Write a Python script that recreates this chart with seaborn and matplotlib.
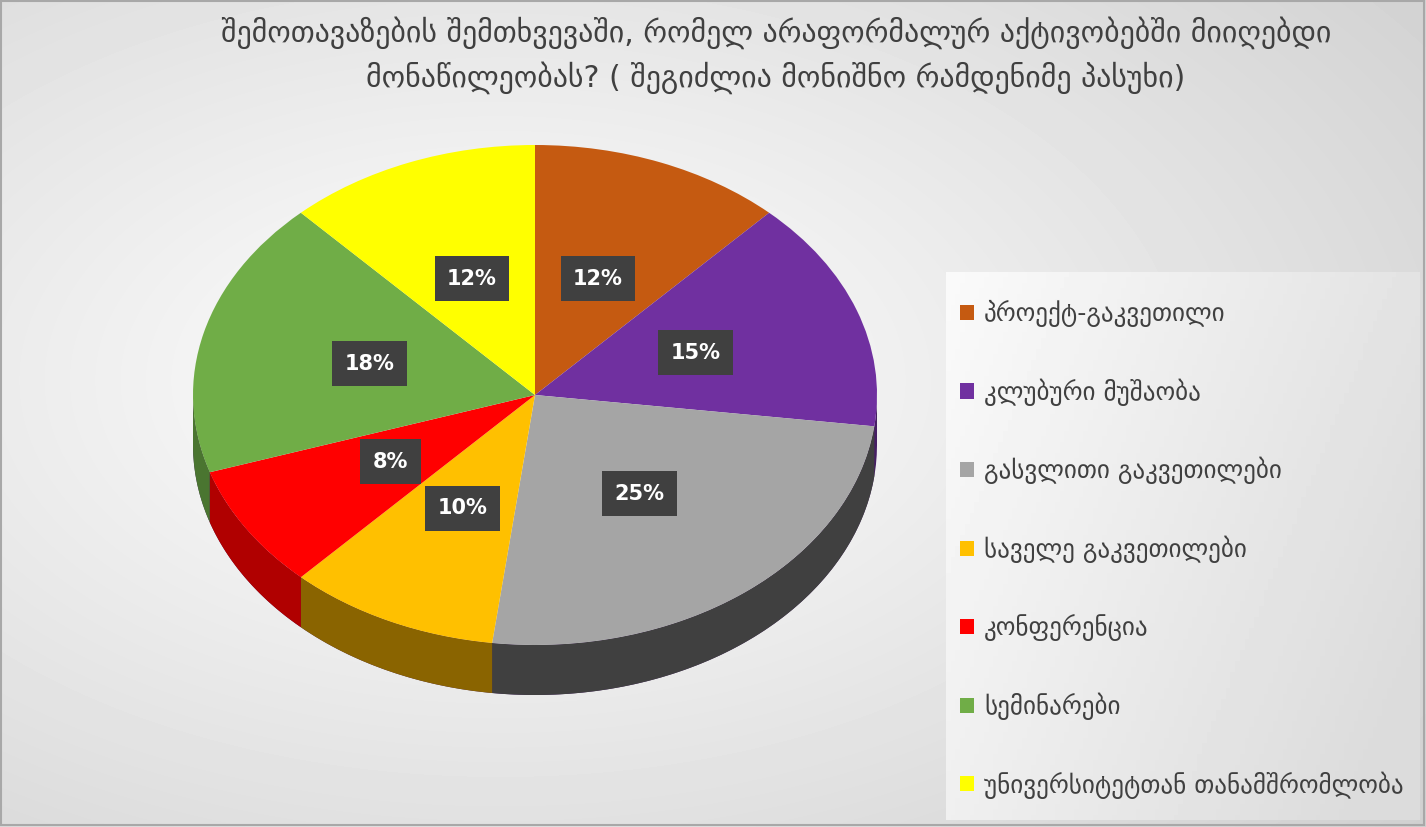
import numpy as np
import matplotlib
matplotlib.use("Agg")
import matplotlib.pyplot as plt
from matplotlib.patches import Polygon
import seaborn as sns

# === данные ===
categories = [
    "პროექტ-გაკვეთილი",
    "კლუბური მუშაობა",
    "გასვლითი გაკვეთილები",
    "საველე გაკვეთილები",
    "კონფერენცია",
    "სემინარები",
    "უნივერსიტეტთან თანამშრომლობა",
]
shares = [12, 15, 25, 10, 8, 18, 12]
colors = ["#C55A11", "#7030A0", "#A5A5A5", "#FFC000", "#FF0000", "#70AD47", "#FFFF00"]
side_colors = ["#7a380b", "#461e64", "#404040", "#8a6400", "#b00000", "#4a7530", "#a0a000"]

title = ("შემოთავაზების შემთხვევაში, რომელ არაფორმალურ აქტივობებში მიიღებდი\n"
         "მონაწილეობას? ( შეგიძლია მონიშნო რამდენიმე პასუხი)")

sns.set_theme(style="white")
plt.rcParams['font.family'] = ['DejaVu Sans']

W, H = 1426, 827
fig = plt.figure(figsize=(W / 100, H / 100), dpi=100)

# фон с градиентом
bg = fig.add_axes([0, 0, 1, 1])
yy, xx = np.mgrid[0:H, 0:W]
d = np.sqrt(((xx - 500) / W) ** 2 + ((yy - 380) / H) ** 2)
g = np.clip(1.0 - 0.22 * d, 0.8, 1.0)
bg.imshow(g, cmap="gray", vmin=0, vmax=1, aspect="auto", extent=[0, W, H, 0])

# фон легенды
lx0, lx1, ly0, ly1 = 946, 1420, 272, 820
ly, lx = np.mgrid[0:100, 0:100] / 99.0
lg = 0.98 - 0.12 * np.clip(0.75 * lx + 0.35 * ly, 0, 1)
bg.imshow(lg, cmap="gray", vmin=0, vmax=1, aspect="auto", extent=[lx0, lx1, ly1, ly0])
bg.set_xlim(0, W)
bg.set_ylim(H, 0)
bg.set_axis_off()
bg.add_patch(plt.Rectangle((1, 1), W - 3, H - 3, fill=False, edgecolor="#a8a8a8", lw=1.5))

# пирог
cx, cy, rx, ry = 535, 395, 342, 250
depth = 50 / ry
left, right, top, bottom = 120, 950, 100, 800
ax = fig.add_axes([left / W, 1 - bottom / H, (right - left) / W, (bottom - top) / H])
ax.set_facecolor("none")

wedges, texts, autotexts = ax.pie(
    shares, colors=colors, startangle=90, counterclock=False,
    autopct="%1.0f%%", pctdistance=0.5,
    textprops=dict(color="white", fontsize=15, fontweight="bold"),
    wedgeprops=dict(linewidth=0),
)
for w in wedges:
    w.set_zorder(3)
for t in autotexts:
    t.set_zorder(5)
    t.set_bbox(dict(boxstyle="square,pad=0.6", facecolor="#404040", edgecolor="none"))

# боковая стенка (только передняя половина)
for w, sc in zip(wedges, side_colors):
    a1, a2 = w.theta1 % 360, w.theta2 % 360
    if a1 > a2:
        a1, a2 = a2, 360
    lo, hi = max(a1, 180), min(a2, 360)
    if hi <= lo:
        continue
    t = np.radians(np.linspace(lo, hi, 80))
    pts = np.concatenate([np.c_[np.cos(t), np.sin(t)],
                          np.c_[np.cos(t[::-1]), np.sin(t[::-1]) - depth]])
    ax.add_patch(Polygon(pts, closed=True, facecolor=sc, edgecolor="none", zorder=2))

ax.set_aspect("auto")
ax.set_xlim((left - cx) / rx, (right - cx) / rx)
ax.set_ylim((cy - bottom) / ry, (cy - top) / ry)
ax.set_axis_off()

fig.text(776 / W, 1 - 55 / H, title, ha="center", va="center", fontsize=21.5,
         color="#404040", linespacing=1.5)

leg = fig.legend(wedges, categories, loc="upper left",
                 bbox_to_anchor=(960 / W, 1 - 300 / H), fontsize=18,
                 frameon=False,
                 labelspacing=2.05, handlelength=0.56, handleheight=0.56,
                 handletextpad=0.4, borderpad=0.0, borderaxespad=0)
for t in leg.get_texts():
    t.set_color("#404040")

fig.savefig("out.png", dpi=100)
